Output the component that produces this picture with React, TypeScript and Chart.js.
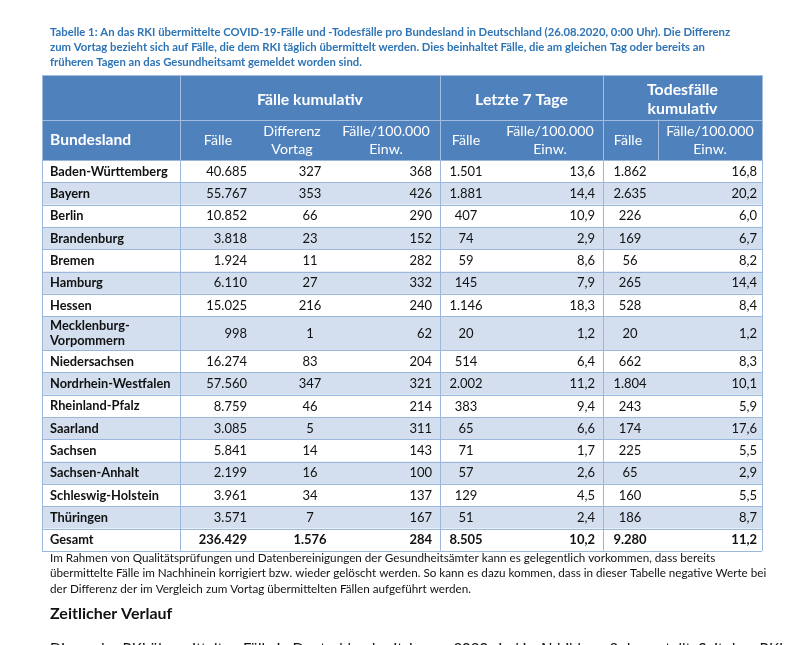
import React, { useEffect, useRef } from 'react';
import { Chart, registerables } from 'chart.js';

Chart.register(...registerables);

// ---------- data ----------
const captionLines = [
  'Tabelle 1: An das RKI übermittelte COVID-19-Fälle und -Todesfälle pro Bundesland in Deutschland (26.08.2020, 0:00 Uhr). Die Differenz',
  'zum Vortag bezieht sich auf Fälle, die dem RKI täglich übermittelt werden. Dies beinhaltet Fälle, die am gleichen Tag oder bereits an',
  'früheren Tagen an das Gesundheitsamt gemeldet worden sind.',
];

const groupHeaders = [
  { lines: ['Fälle kumulativ'], from: 1, to: 3 },
  { lines: ['Letzte 7 Tage'], from: 4, to: 5 },
  { lines: ['Todesfälle', 'kumulativ'], from: 6, to: 7 },
];

const subHeaders = [
  ['Bundesland'],
  ['Fälle'],
  ['Differenz', 'Vortag'],
  ['Fälle/100.000', 'Einw.'],
  ['Fälle'],
  ['Fälle/100.000', 'Einw.'],
  ['Fälle'],
  ['Fälle/100.000', 'Einw.'],
];

const states = [
  'Baden-Württemberg',
  'Bayern',
  'Berlin',
  'Brandenburg',
  'Bremen',
  'Hamburg',
  'Hessen',
  'Mecklenburg-\nVorpommern',
  'Niedersachsen',
  'Nordrhein-Westfalen',
  'Rheinland-Pfalz',
  'Saarland',
  'Sachsen',
  'Sachsen-Anhalt',
  'Schleswig-Holstein',
  'Thüringen',
];

const casesTotal = [40685, 55767, 10852, 3818, 1924, 6110, 15025, 998, 16274, 57560, 8759, 3085, 5841, 2199, 3961, 3571];
const casesDiff = [327, 353, 66, 23, 11, 27, 216, 1, 83, 347, 46, 5, 14, 16, 34, 7];
const casesPer100k = [368, 426, 290, 152, 282, 332, 240, 62, 204, 321, 214, 311, 143, 100, 137, 167];
const cases7d = [1501, 1881, 407, 74, 59, 145, 1146, 20, 514, 2002, 383, 65, 71, 57, 129, 51];
const per100k7d = [13.6, 14.4, 10.9, 2.9, 8.6, 7.9, 18.3, 1.2, 6.4, 11.2, 9.4, 6.6, 1.7, 2.6, 4.5, 2.4];
const deaths = [1862, 2635, 226, 169, 56, 265, 528, 20, 662, 1804, 243, 174, 225, 65, 160, 186];
const deathsPer100k = [16.8, 20.2, 6.0, 6.7, 8.2, 14.4, 8.4, 1.2, 8.3, 10.1, 5.9, 17.6, 5.5, 2.9, 5.5, 8.7];

const totalLabel = 'Gesamt';
const totals = [236429, 1576, 284, 8505, 10.2, 9280, 11.2];

const footnoteLines = [
  'Im Rahmen von Qualitätsprüfungen und Datenbereinigungen der Gesundheitsämter kann es gelegentlich vorkommen, dass bereits',
  'übermittelte Fälle im Nachhinein korrigiert bzw. wieder gelöscht werden. So kann es dazu kommen, dass in dieser Tabelle negative Werte bei',
  'der Differenz der im Vergleich zum Vortag übermittelten Fällen aufgeführt werden.',
];
const sectionTitle = 'Zeitlicher Verlauf';
const clippedLine = 'Die an das RKI übermittelten Fälle in Deutschland seit Januar 2020 sind in Abbildung 2 dargestellt. Seit dem RKI';

// ---------- layout / style ----------
const FONT = 'Lato, "Open Sans", sans-serif';
const C = {
  header: '#4f81bd',
  headerLine: '#a3bde0',
  band: '#d3dfee',
  line: '#9bb7dc',
  caption: '#2e74b5',
  text: '#111111',
};
const tableLeft = 42;
const tableRight = 762;
const headerTop = 75;
const headerMid = 119.5;
const headerBottom = 160;
const rowH = 22.3;
const extraLineH = 11.7;
const dataAnchor = [50, 247, 310, 432, 466, 595, 630, 757];
const dataAlign: CanvasTextAlign[] = ['left', 'right', 'center', 'right', 'center', 'right', 'center', 'right'];
const headCenter = [50, 218, 292, 386, 466, 550, 628, 710];
const groupEdges = [42, 180, 440, 603, 762];
const subEdge = 658;

function fmtInt(n: number) {
  const s = Math.round(n).toString();
  return s.replace(/\B(?=(\d{3})+(?!\d))/g, '.');
}
function fmtDec(n: number) {
  return n.toFixed(1).replace('.', ',');
}

const tablePlugin = {
  id: 'tableDraw',
  afterDraw(chart: any) {
    const { ctx } = chart;
    const xs = chart.scales.x;
    const ys = chart.scales.y;
    const X = (v: number) => xs.getPixelForValue(v);
    const Y = (v: number) => ys.getPixelForValue(v);
    ctx.save();
    ctx.fillStyle = '#ffffff';
    ctx.fillRect(0, 0, chart.width, chart.height);

    // caption
    ctx.fillStyle = C.caption;
    ctx.font = `bold 11.3px ${FONT}`;
    ctx.textBaseline = 'middle';
    ctx.textAlign = 'left';
    captionLines.forEach((l, i) => ctx.fillText(l, X(50), Y(32 + i * 15)));

    // rows
    const rows = states.map((s, i) => ({
      label: s.split('\n'),
      vals: [casesTotal[i], casesDiff[i], casesPer100k[i], cases7d[i], per100k7d[i], deaths[i], deathsPer100k[i]],
      bold: false,
    }));
    rows.push({ label: [totalLabel], vals: totals, bold: true });

    let yTop = headerBottom;
    const rowBounds: [number, number][] = [];
    rows.forEach((r) => {
      const h = rowH + (r.label.length - 1) * extraLineH;
      rowBounds.push([yTop, yTop + h]);
      yTop += h;
    });
    const tableBottom = yTop;

    // header background
    ctx.fillStyle = C.header;
    ctx.fillRect(X(tableLeft), Y(headerTop), X(tableRight) - X(tableLeft), Y(headerBottom) - Y(headerTop));

    // row bands
    rows.forEach((r, i) => {
      if (i % 2 === 1 && !r.bold) {
        const [a, b] = rowBounds[i];
        ctx.fillStyle = C.band;
        ctx.fillRect(X(tableLeft), Y(a), X(tableRight) - X(tableLeft), Y(b) - Y(a));
      }
    });

    ctx.strokeStyle = C.headerLine;
    ctx.lineWidth = 1;
    const hline = (y: number, x0: number, x1: number) => {
      ctx.beginPath();
      ctx.moveTo(X(x0), Math.round(Y(y)) + 0.5);
      ctx.lineTo(X(x1), Math.round(Y(y)) + 0.5);
      ctx.stroke();
    };
    const vline = (x: number, y0: number, y1: number) => {
      ctx.beginPath();
      ctx.moveTo(Math.round(X(x)) + 0.5, Y(y0));
      ctx.lineTo(Math.round(X(x)) + 0.5, Y(y1));
      ctx.stroke();
    };
    hline(headerTop, tableLeft, tableRight);
    hline(headerMid, tableLeft, tableRight);
    groupEdges.forEach((e) => vline(e, headerTop, headerBottom));
    vline(subEdge, headerMid, headerBottom);

    // body lines
    ctx.strokeStyle = C.line;
    rowBounds.forEach(([a, b]) => {
      hline(a, tableLeft, tableRight);
      hline(b, tableLeft, tableRight);
    });
    groupEdges.forEach((e) => vline(e, headerBottom, tableBottom));

    // header text
    ctx.fillStyle = '#ffffff';
    ctx.textAlign = 'center';
    ctx.font = `bold 15.8px ${FONT}`;
    groupHeaders.forEach((g, gi) => {
      const cx = (groupEdges[gi + 1] + groupEdges[gi + 2]) / 2;
      const cy = 99.5;
      const n = g.lines.length;
      g.lines.forEach((l, k) => ctx.fillText(l, X(cx), Y(cy + (k - (n - 1) / 2) * 19)));
    });
    subHeaders.forEach((lines, c) => {
      const cy = (headerMid + headerBottom) / 2 + 0.5;
      const n = lines.length;
      if (c === 0) {
        ctx.font = `bold 15.6px ${FONT}`;
        ctx.textAlign = 'left';
      } else {
        ctx.font = `14.2px ${FONT}`;
        ctx.textAlign = 'center';
      }
      lines.forEach((l, k) => ctx.fillText(l, X(headCenter[c]), Y(cy + (k - (n - 1) / 2) * 18.5)));
    });

    // body text
    ctx.fillStyle = C.text;
    rows.forEach((r, i) => {
      const [a, b] = rowBounds[i];
      const cy = (a + b) / 2 + 0.5;
      ctx.font = `bold 12.8px ${FONT}`;
      ctx.textAlign = 'left';
      const n = r.label.length;
      r.label.forEach((l, k) => ctx.fillText(l, X(dataAnchor[0]), Y(cy + (k - (n - 1) / 2) * 15.5)));
      ctx.font = `${r.bold ? 'bold ' : ''}13px ${FONT}`;
      r.vals.forEach((v, c) => {
        const isDec = c === 4 || c === 6;
        const txt = isDec ? fmtDec(v) : fmtInt(v);
        ctx.textAlign = dataAlign[c + 1];
        ctx.fillText(txt, X(dataAnchor[c + 1]), Y(cy));
      });
    });

    // footnote
    ctx.fillStyle = C.text;
    ctx.textAlign = 'left';
    ctx.font = `11.7px ${FONT}`;
    footnoteLines.forEach((l, i) => ctx.fillText(l, X(50), Y(558 + i * 15.5)));

    ctx.font = `bold 16px ${FONT}`;
    ctx.fillText(sectionTitle, X(50), Y(614));

    ctx.font = `15px ${FONT}`;
    ctx.textBaseline = 'top';
    ctx.fillText(clippedLine, X(50), Y(641.5));
    ctx.restore();
  },
};

export default function App() {
  const ref = useRef<HTMLCanvasElement | null>(null);
  useEffect(() => {
    if (!ref.current) return;
    const chart = new Chart(ref.current, {
      type: 'scatter',
      data: { datasets: [{ data: [], pointRadius: 0 }] },
      options: {
        animation: false,
        responsive: false,
        maintainAspectRatio: false,
        devicePixelRatio: 1,
        layout: { padding: 0 },
        events: [],
        scales: {
          x: { type: 'linear', min: 0, max: 800, display: false },
          y: { type: 'linear', min: 0, max: 645, reverse: true, display: false },
        },
        plugins: { legend: { display: false }, tooltip: { enabled: false }, title: { display: false } },
      },
      plugins: [tablePlugin],
    });
    return () => chart.destroy();
  }, []);
  return (
    <div style={{ position: 'absolute', left: 0, top: 0, width: 800, height: 645, background: '#fff' }}>
      <canvas ref={ref} width={800} height={645} style={{ display: 'block' }} />
    </div>
  );
}
